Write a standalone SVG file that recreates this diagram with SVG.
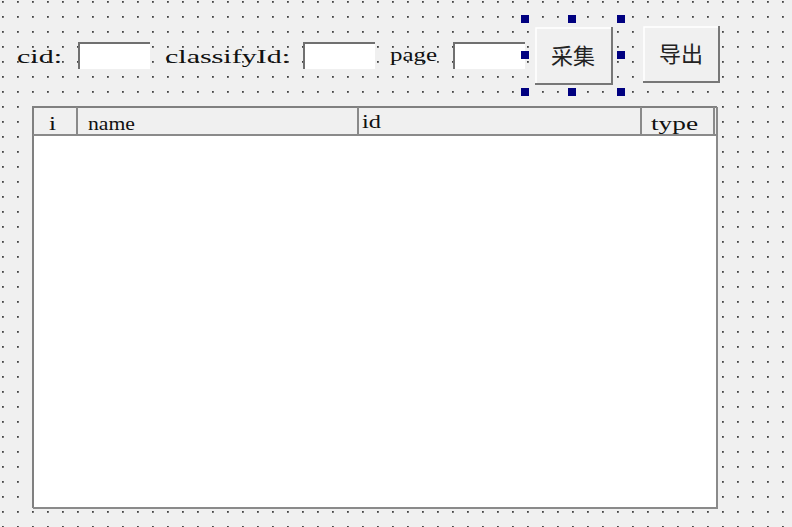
<svg xmlns="http://www.w3.org/2000/svg" width="792" height="527" viewBox="0 0 792 527">
<defs>
<pattern id="grid" x="2" y="1" width="15" height="15" patternUnits="userSpaceOnUse">
<rect x="0" y="0" width="1.8" height="1.8" fill="#444"/>
</pattern>
</defs>
<style>
.lbl{font-family:"Liberation Serif","DejaVu Serif",serif;font-size:19px;fill:#111}
.cjk{font-family:"Noto Sans CJK SC","Noto Sans CJK JP",sans-serif;font-size:22px;fill:#222}
.edit{fill:#fff;stroke:none}
.sunk{stroke:#707070;stroke-width:2;fill:none}
.btn{fill:#f0f0f0}
.hl{stroke:#fff;stroke-width:1.5;fill:none}
.sh{stroke:#777;stroke-width:2;fill:none}
.handle{fill:#000080}
.hline{stroke:#8a8a8a;stroke-width:2}
</style>
<rect x="0" y="0" width="792" height="527" fill="#f0f0f0"/>
<rect x="0" y="0" width="792" height="527" fill="url(#grid)"/>

<g id="label-cid"><text class="lbl" x="17" y="63" textLength="45" lengthAdjust="spacingAndGlyphs">cid:</text></g>
<g id="edit-cid">
<rect class="edit" x="78" y="42" width="72" height="27"/>
<path class="sunk" d="M79,69 V43 H150"/>
</g>
<g id="label-classifyId"><text class="lbl" x="165" y="63" textLength="125" lengthAdjust="spacingAndGlyphs">classifyId:</text></g>
<g id="edit-classifyId">
<rect class="edit" x="303" y="42" width="72" height="27"/>
<path class="sunk" d="M304,69 V43 H375"/>
</g>
<g id="label-page"><text class="lbl" x="390" y="61" textLength="47" lengthAdjust="spacingAndGlyphs">page</text></g>
<g id="edit-page">
<rect class="edit" x="453" y="42" width="72" height="27"/>
<path class="sunk" d="M454,69 V43 H525"/>
</g>

<g id="btn-collect">
<rect class="btn" x="535" y="27" width="77" height="57"/>
<path class="hl" d="M536,83 V28 H611"/>
<path class="sh" d="M612,27 V84 H535"/>
<text class="cjk" x="573" y="64" text-anchor="middle">采集</text>
</g>
<g id="selection">
<rect class="handle" x="521" y="15" width="8" height="8"/>
<rect class="handle" x="568" y="15" width="8" height="8"/>
<rect class="handle" x="617" y="15" width="8" height="8"/>
<rect class="handle" x="521" y="51" width="8" height="8"/>
<rect class="handle" x="617" y="51" width="8" height="8"/>
<rect class="handle" x="521" y="88" width="8" height="8"/>
<rect class="handle" x="568" y="88" width="8" height="8"/>
<rect class="handle" x="617" y="88" width="8" height="8"/>
</g>
<g id="btn-export">
<rect class="btn" x="643" y="26" width="76" height="56"/>
<path class="hl" d="M644,81 V27 H718"/>
<path class="sh" d="M719,26 V82 H643"/>
<text class="cjk" x="681" y="62" text-anchor="middle">导出</text>
</g>

<g id="table">
<rect x="33" y="107" width="684" height="401" fill="#fff"/>
<rect x="33" y="107" width="684" height="28" fill="#f0f0f0"/>
<path d="M33,508 V107 H717" stroke="#808080" stroke-width="2" fill="none"/>
<path d="M717,107 V508 H33" stroke="#8a8a8a" stroke-width="2" fill="none"/>
<line class="hline" x1="33" y1="135" x2="717" y2="135"/>
<line class="hline" x1="77" y1="107" x2="77" y2="135"/>
<line class="hline" x1="358" y1="107" x2="358" y2="135"/>
<line class="hline" x1="641" y1="107" x2="641" y2="135"/>
<line class="hline" x1="714" y1="107" x2="714" y2="135"/>
<text class="lbl" x="49" y="130" textLength="7" lengthAdjust="spacingAndGlyphs">i</text>
<text class="lbl" x="88" y="130" textLength="47" lengthAdjust="spacingAndGlyphs">name</text>
<text class="lbl" x="362" y="128" textLength="19" lengthAdjust="spacingAndGlyphs">id</text>
<text class="lbl" x="651" y="130" textLength="47" lengthAdjust="spacingAndGlyphs">type</text>
</g>
</svg>
